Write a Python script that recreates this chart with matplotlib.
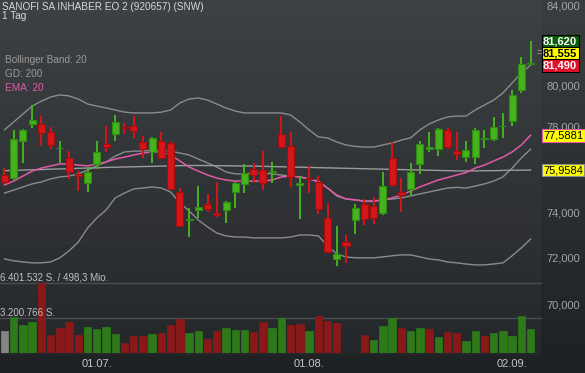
import numpy as np
import matplotlib
matplotlib.use("Agg")
import matplotlib.pyplot as plt
from matplotlib import transforms
from matplotlib.colors import LinearSegmentedColormap
from matplotlib.ticker import NullLocator

plt.rcParams['font.family'] = ['Liberation Sans', 'DejaVu Sans']

# daily candles 17.06. - 04.09.
opens = [75.73, 75.59, 77.31, 78.12, 78.12, 77.76, 76.97, 76.53, 75.77, 75.35,
         76.24, 77.17, 77.65, 77.96, 78.02, 77.25, 76.78, 77.33, 77.21, 74.93,
         73.69, 74.11, 74.39, 73.98, 74.14, 74.96, 75.30, 75.99, 75.95, 75.87,
         77.65, 77.08, 75.28, 75.58, 75.42, 73.76, 71.94, 72.69, 73.68, 74.41,
         74.32, 74.01, 76.51, 74.93, 75.07, 76.22, 76.92, 76.92, 77.84, 76.86,
         76.58, 76.58, 77.41, 77.41, 78.02, 78.28, 79.76, 81.04]
highs = [76.05, 77.84, 77.89, 79.03, 78.50, 77.96, 77.31, 76.84, 75.91, 76.08,
         77.31, 78.02, 78.55, 78.15, 78.50, 77.57, 77.50, 77.73, 77.28, 75.13,
         74.21, 75.22, 74.86, 75.39, 74.54, 75.42, 76.22, 76.27, 76.83, 76.33,
         78.50, 77.73, 75.68, 76.14, 75.68, 74.44, 73.41, 73.01, 74.41, 74.62,
         74.71, 75.85, 77.25, 75.58, 76.27, 77.31, 77.76, 77.95, 77.92, 77.73,
         77.30, 77.92, 77.84, 78.44, 78.67, 79.76, 81.39, 82.18]
lows = [75.32, 75.50, 76.28, 77.93, 77.08, 76.95, 76.27, 75.53, 74.99, 74.93,
        75.99, 76.78, 77.33, 77.63, 77.47, 76.51, 76.30, 76.51, 75.04, 73.36,
        72.94, 73.76, 74.05, 73.83, 73.54, 74.24, 74.92, 75.37, 75.04, 75.37,
        77.02, 75.16, 73.71, 74.89, 73.94, 72.23, 71.64, 71.76, 73.05, 73.44,
        73.49, 73.90, 75.19, 74.05, 74.78, 75.78, 76.79, 76.61, 76.92, 76.44,
        76.34, 76.25, 77.00, 77.31, 77.47, 78.04, 79.63, 80.98]
closes = [75.41, 77.41, 77.84, 78.31, 77.68, 77.11, 76.99, 75.88, 75.67, 75.85,
          76.78, 77.05, 78.20, 77.91, 77.79, 76.95, 77.44, 76.53, 75.07, 73.43,
          73.72, 74.26, 74.19, 73.89, 74.48, 75.35, 75.81, 75.73, 75.37, 75.90,
          77.05, 75.65, 75.37, 75.55, 74.16, 72.27, 72.16, 72.50, 74.21, 73.71,
          73.76, 75.22, 75.27, 74.80, 75.88, 77.16, 77.02, 77.89, 77.02, 76.69,
          76.88, 77.83, 77.44, 77.96, 78.05, 79.50, 81.03, 81.06]
# volume in million shares
volumes = [1.98, 3.29, 2.59, 2.81, 6.401532, 1.68, 2.26, 2.83, 1.62, 2.38,
           2.17, 2.38, 1.77, 0.91, 1.53, 1.55, 1.71, 1.86, 2.59, 3.14,
           1.80, 1.98, 1.31, 1.98, 2.26, 2.08, 2.14, 1.92, 2.81, 2.32,
           3.23, 2.59, 2.65, 2.01, 3.41, 2.90, 2.72, 0.02, 0.02, 1.62,
           1.22, 2.44, 3.17, 2.26, 2.04, 2.32, 2.23, 1.46, 1.89, 1.80,
           1.10, 2.01, 1.58, 1.86, 2.04, 1.53, 3.36, 2.17]

bb_upper = [77.84, 78.22, 78.60, 78.98, 79.22, 79.42, 79.52, 79.47, 79.32, 79.08,
            78.98, 78.89, 78.79, 78.69, 78.65, 78.65, 78.65, 78.69, 78.79, 79.13,
            79.32, 79.37, 79.27, 79.08, 78.89, 78.74, 78.65, 78.65, 78.65, 78.65,
            78.65, 78.55, 78.22, 77.84, 77.51, 77.46, 77.27, 77.13, 77.06, 77.03,
            77.03, 77.13, 77.22, 77.36, 77.46, 77.84, 78.12, 78.31, 78.46, 78.50,
            78.50, 78.79, 79.03, 79.27, 79.61, 80.10, 80.59, 80.98]
bb_mid = [74.90, 75.04, 75.18, 75.32, 75.41, 75.55, 75.64, 75.68, 75.78, 75.96,
          76.15, 76.33, 76.61, 76.80, 76.84, 76.84, 76.89, 76.89, 76.84, 76.75,
          76.66, 76.47, 76.29, 76.10, 75.87, 75.78, 75.78, 75.82, 75.82, 75.78,
          75.73, 75.68, 75.64, 75.55, 75.45, 75.13, 74.77, 74.63, 74.59, 74.54,
          74.54, 74.59, 74.63, 74.68, 74.77, 74.86, 74.95, 75.04, 75.13, 75.16,
          75.13, 75.22, 75.32, 75.45, 75.64, 76.05, 76.52, 76.93]
bb_lower = [71.95, 71.87, 71.82, 71.78, 71.78, 71.82, 72.00, 72.31, 72.70, 73.32,
            73.77, 74.13, 74.68, 74.90, 75.09, 75.13, 75.18, 75.13, 74.95, 74.45,
            74.09, 73.68, 73.37, 73.10, 72.97, 72.92, 72.92, 72.88, 72.88, 72.88,
            72.88, 72.92, 73.01, 73.01, 72.97, 72.53, 72.17, 72.04, 72.00, 72.00,
            72.00, 72.04, 72.09, 72.13, 72.13, 72.04, 71.95, 71.91, 71.82, 71.78,
            71.73, 71.69, 71.69, 71.73, 71.78, 72.09, 72.44, 72.83]
ema20 = [75.27, 75.45, 75.68, 75.91, 76.05, 76.15, 76.24, 76.24, 76.19, 76.15,
         76.24, 76.33, 76.47, 76.56, 76.66, 76.75, 76.80, 76.80, 76.66, 76.38,
         76.10, 75.91, 75.73, 75.59, 75.50, 75.45, 75.45, 75.45, 75.45, 75.50,
         75.64, 75.68, 75.64, 75.55, 75.41, 75.13, 74.81, 74.63, 74.59, 74.52,
         74.52, 74.59, 74.68, 74.81, 74.99, 75.18, 75.34, 75.50, 75.61, 75.73,
         75.84, 76.05, 76.19, 76.38, 76.56, 76.80, 77.13, 77.5881]
gd200 = [75.93, 75.94, 75.96, 75.97, 75.98, 76.00, 76.01, 76.02, 76.04, 76.05,
         76.06, 76.08, 76.09, 76.10, 76.11, 76.12, 76.13, 76.14, 76.15, 76.16,
         76.17, 76.17, 76.17, 76.16, 76.16, 76.15, 76.15, 76.14, 76.13, 76.12,
         76.11, 76.10, 76.09, 76.08, 76.07, 76.06, 76.05, 76.04, 76.03, 76.02,
         76.01, 76.00, 75.99, 75.98, 75.97, 75.96, 75.95, 75.94, 75.93, 75.92,
         75.92, 75.92, 75.93, 75.93, 75.94, 75.95, 75.95, 75.9584]

price_ticks = [70, 72, 74, 78, 80, 84]
date_ticks = [10, 33, 55]
date_labels = ["01.07.", "01.08.", "02.09."]
quote_high, quote_last, quote_low = 81.620, 81.555, 81.490

W, H = 585, 373
fig = plt.figure(figsize=(W / 100, H / 100), dpi=100)

bg = fig.add_axes([0, 0, 1, 1])
cmap = LinearSegmentedColormap.from_list('bg', ['#3b3e41', '#1e2124'])
bg.imshow(np.linspace(0, 1, 256).reshape(-1, 1), aspect='auto', cmap=cmap,
          extent=[0, 1, 0, 1], origin='upper')
bg.axis('off')
bg.add_patch(plt.Rectangle((0, 18 / H), 541 / W, 1, color='white', alpha=0.025, lw=0))

x = np.arange(len(closes))
o, h, l, c = map(np.array, (opens, highs, lows, closes))
up = c >= o

ax = fig.add_axes([0, 0, 541 / W, 1])
ax.set_facecolor('none')
ax.set_yscale('log')
ax.set_ylim(67.118, 84.2565)
ax.set_xlim(-0.4875, 58.128)
for s in ax.spines.values():
    s.set_visible(False)

ax.plot(x, bb_upper, color='#8a8b8c', lw=1, zorder=2)
ax.plot(x, bb_mid, color='#8a8b8c', lw=1, zorder=2)
ax.plot(x, bb_lower, color='#8a8b8c', lw=1, zorder=2)
ax.plot(x, gd200, color='#9a9b9c', lw=1, zorder=2)
ax.plot(x, ema20, color='#e05aa6', lw=1.1, zorder=2)

fill = np.where(up, '#45b31c', '#d61519')
edge = np.where(up, '#2f8a12', '#9e0f12')
ax.vlines(x, l, h, colors=fill, lw=1.4, zorder=3)
ax.bar(x, np.maximum(np.abs(c - o), 0.03), bottom=np.minimum(o, c), width=0.76,
       color=fill, edgecolor=edge, linewidth=0.8, zorder=4)

ax.yaxis.tick_right()
ax.yaxis.set_minor_locator(NullLocator())
ax.set_yticks(price_ticks)
ax.set_yticklabels([f"{v:.3f}".replace('.', ',') for v in price_ticks])
ax.tick_params(axis='y', length=0, pad=4, labelsize=8, labelcolor='#a2a3a4')
ax.set_xticks([])

blend = transforms.blended_transform_factory(ax.transAxes, ax.transData)
def tag(txt, y, dy, fc, tc, ec, bold=False):
    ax.annotate(txt, xy=(1, y), xycoords=blend, xytext=(1.5, dy), textcoords='offset points',
                ha='left', va='center', fontsize=8, color=tc,
                fontweight='bold' if bold else 'normal', annotation_clip=False, zorder=10,
                bbox=dict(boxstyle='square,pad=0.12', fc=fc, ec=ec, lw=0.8))

tag(f"{quote_high:.3f}".replace('.', ','), quote_last, 8.6, '#0c5e0c', 'white', 'black', True)
tag(f"{quote_last:.3f}".replace('.', ','), quote_last, 0, '#ffff00', 'black', 'black', True)
tag(f"{quote_low:.3f}".replace('.', ','), quote_last, -8.6, '#e2102a', 'white', 'black', True)
tag(f"{ema20[-1]:.4f}".replace('.', ','), ema20[-1], 0, '#ffff00', 'black', '#e05aa6')
tag(f"{gd200[-1]:.4f}".replace('.', ','), gd200[-1], 0, '#ffff00', 'black', '#8a8a8a')
ax.annotate('=', xy=(1, quote_last), xycoords=blend, xytext=(-1, 0), textcoords='offset points',
            ha='center', va='center', fontsize=7, color='#a0a0a0', annotation_clip=False)

vol_max = max(volumes)
vax = fig.add_axes([0, 20 / H, 541 / W, 70 / H])
vax.set_facecolor('none')
vax.set_xlim(-0.4875, 58.128)
vax.set_ylim(0, vol_max)
for s in vax.spines.values():
    s.set_visible(False)
vcol = ['#858585'] + ['#2e7a19' if c[i] >= c[i - 1] else '#8a1818' for i in range(1, len(c))]
vax.bar(x, volumes, width=0.8, color=vcol, edgecolor=vcol, lw=0.5, zorder=3)
vax.axhline(vol_max, color='#4a4d50', lw=1, clip_on=False, zorder=1)
vax.axhline(vol_max / 2, color='#4a4d50', lw=1, clip_on=False, zorder=1)
vax.set_yticks([])
vax.set_xticks(date_ticks)
vax.set_xticklabels(date_labels)
vax.tick_params(axis='x', length=0, pad=4, labelsize=8, labelcolor='#c4c4c4')

def vol_txt(v):
    return f"{int(round(v * 1e6)):,}".replace(',', '.')

fig.text(0, 1 - 277 / H, f"{vol_txt(vol_max)} S. / 498,3 Mio.", fontsize=7,
         color='#c0c0c0', va='center')
fig.text(0, 1 - 313 / H, f"{vol_txt(vol_max / 2)} S.", fontsize=7,
         color='#c0c0c0', va='center')

fig.text(2 / W, 1 - 10 / H, "SANOFI SA INHABER EO 2 (920657) (SNW)", fontsize=7.2,
         color='#d8d8d8', va='baseline')
fig.text(2 / W, 1 - 19.3 / H, "1 Tag", fontsize=7.2, color='#d8d8d8', va='baseline')
fig.text(5 / W, 1 - 63.3 / H, "Bollinger Band: 20", fontsize=7.2, color='#9a9a9a', va='baseline')
fig.text(5 / W, 1 - 77.3 / H, "GD: 200", fontsize=7.2, color='#9a9a9a', va='baseline')
fig.text(5 / W, 1 - 91.3 / H, "EMA: 20", fontsize=7.2, color='#e05aa6', va='baseline')

fig.savefig("out.png", dpi=100)
